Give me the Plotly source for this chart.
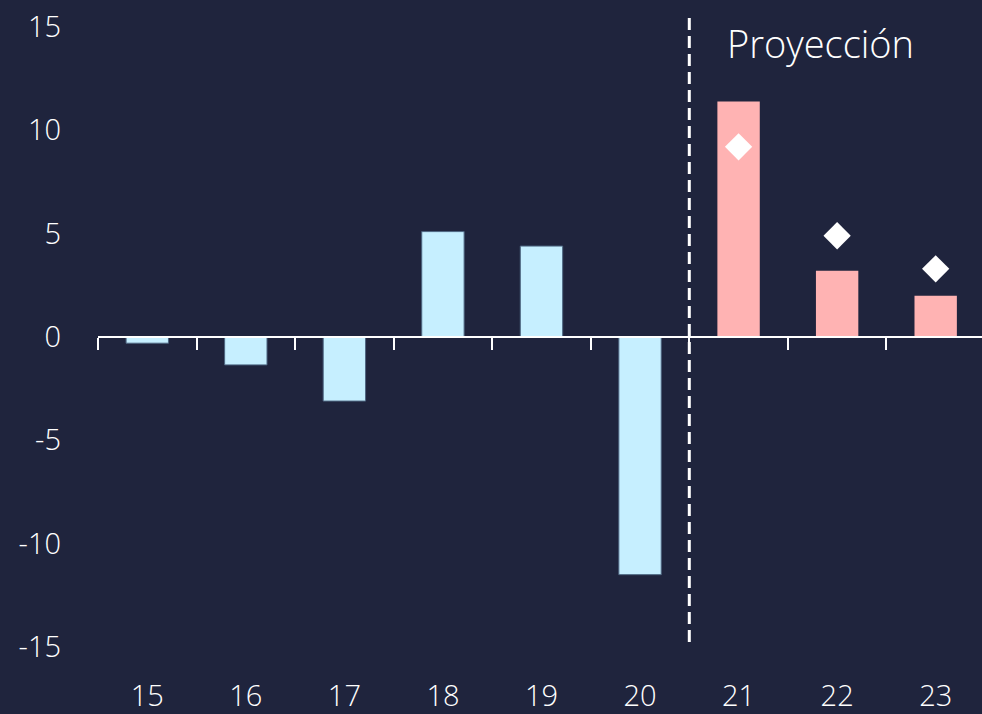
import plotly.graph_objects as go

years = ["15", "16", "17", "18", "19", "20", "21", "22", "23"]
hist_years = ["15", "16", "17", "18", "19", "20"]
hist_values = [-0.3, -1.35, -3.1, 5.1, 4.4, -11.5]
proj_years = ["21", "22", "23"]
proj_values = [11.4, 3.2, 2.0]
marker_years = ["21", "22", "23"]
marker_values = [9.2, 4.9, 3.3]
y_ticks = [-15, -10, -5, 0, 5, 10, 15]
y_ticktext = ["-15", "-10", "-5", "0", "5", "10", "15"]
proj_label = "Proyección"

BG = "#1f243d"
FONT = "Open Sans"

fig = go.Figure()
fig.add_trace(go.Bar(x=hist_years, y=hist_values, width=0.43,
                     marker=dict(color="#c6efff", line=dict(color="#4d6580", width=1)),
                     showlegend=False))
fig.add_trace(go.Bar(x=proj_years, y=proj_values, width=0.43,
                     marker=dict(color="#ffb3b3", line=dict(width=0)),
                     showlegend=False))
fig.add_trace(go.Scatter(x=marker_years, y=marker_values, mode="markers",
                         marker=dict(symbol="diamond", size=21, color="white"),
                         showlegend=False))
# invisible trace for the zero-line axis
fig.add_trace(go.Scatter(x=years, y=[None]*len(years), xaxis="x2", showlegend=False,
                         hoverinfo="skip"))

fig.add_shape(type="line", xref="x", yref="paper", x0=5.5, x1=5.5, y0=0.008, y1=1.019,
              line=dict(color="white", width=3, dash="12px,6px"))
fig.add_annotation(xref="x", yref="paper", x=6.83, y=1.019, text=proj_label,
                   showarrow=False, font=dict(family=FONT, size=38, color="white", weight=300))

fig.update_layout(
    width=982, height=714,
    paper_bgcolor=BG, plot_bgcolor=BG,
    margin=dict(l=98, r=0, t=27, b=64),
    font=dict(family=FONT, color="white", size=29, weight=300),
    xaxis=dict(type="category", categoryorder="array", categoryarray=years,
               range=[-0.5, 8.47], showline=False, showgrid=False, zeroline=False,
               ticks="", ticklabelstandoff=29, tickfont=dict(size=29)),
    xaxis2=dict(type="category", categoryorder="array", categoryarray=years,
                range=[-0.5, 8.47], overlaying="x", anchor="free", position=0.5,
                side="bottom", showline=True, linecolor="white", linewidth=2,
                ticks="outside", ticklen=12, tickwidth=2, tickcolor="white",
                tickson="boundaries", showticklabels=False, showgrid=False, zeroline=False),
    yaxis=dict(range=[-15, 15], tickvals=y_ticks, ticktext=y_ticktext,
               showgrid=False, zeroline=False,
               showline=False, ticks="", ticklabelstandoff=36, tickfont=dict(size=29)),
    bargap=0.5,
)

fig.write_html("out.html", config={"displayModeBar": False},
               post_script="document.documentElement.style.margin='0';"
                           "document.body.style.margin='0';"
                           "document.body.style.overflow='hidden';"
                           "document.body.style.background='#1f243d';")
